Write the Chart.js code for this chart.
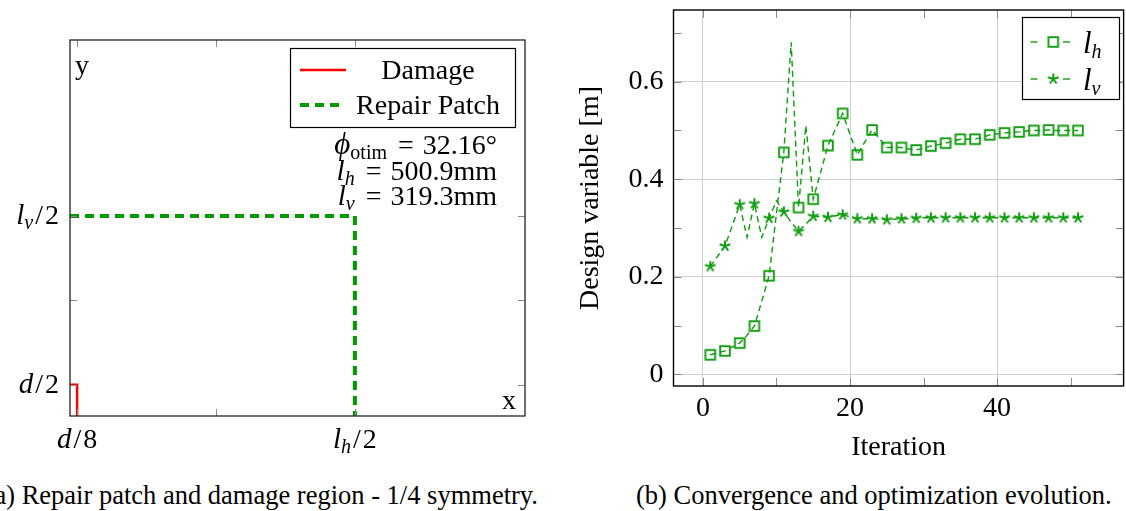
<!DOCTYPE html>
<html>
<head>
<meta charset="utf-8">
<script src="https://cdn.jsdelivr.net/npm/chart.js@4.4.1/dist/chart.umd.min.js"></script>
<style>
  html, body { margin: 0; padding: 0; background: #fff; overflow: hidden; }
  #wrap { position: relative; width: 1126px; height: 511px; overflow: hidden; }
  canvas { position: absolute; top: 0; }
  #patch { left: 0; }
  #conv { left: 560px; }
  .cap { position: absolute; top: 479px; font-family: "Liberation Serif", serif; font-size: 26.5px;
         line-height: 32px; white-space: nowrap; color: #000; }
  #capA { right: 588px; }
  #capB { left: 636px; }
</style>
</head>
<body>
<div id="wrap">
  <canvas id="patch" width="560" height="470"></canvas>
  <canvas id="conv" width="570" height="470"></canvas>
  <div class="cap" id="capA">(a) Repair patch and damage region - 1/4 symmetry.</div>
  <div class="cap" id="capB">(b) Convergence and optimization evolution.</div>
</div>
<script>
// ---- data: (a) patch geometry, mm ----
const damageX = [0, 6.25, 6.25];
const damageY = [25, 25, 0];
const patchX = [0, 250.45, 250.45];
const patchY = [159.65, 159.65, 0];
const patchXTicks = [6.25, 128.35, 250.45];
const patchYTicks = [25, 92.3, 159.65];

// ---- data: (b) convergence ----
const iterations = [
  1, 2, 3, 4, 5, 6, 7, 8, 9, 10, 11, 12, 13, 14, 15, 16, 17, 18, 19, 20, 21, 22, 23, 24, 25, 26,
  27, 28, 29, 30, 31, 32, 33, 34, 35, 36, 37, 38, 39, 40, 41, 42, 43, 44, 45, 46, 47, 48, 49, 50, 51
];
const lhValues = [
  0.040, 0.044, 0.048, 0.056, 0.064, 0.080, 0.099, 0.150, 0.202, 0.330,
  0.455, 0.681, 0.342, 0.510, 0.359, 0.414, 0.469, 0.502, 0.535, 0.492,
  0.450, 0.476, 0.501, 0.483, 0.465, 0.465, 0.465, 0.462, 0.460, 0.464,
  0.468, 0.471, 0.474, 0.478, 0.482, 0.482, 0.482, 0.486, 0.491, 0.493,
  0.495, 0.496, 0.497, 0.499, 0.500, 0.500, 0.501, 0.500, 0.500, 0.500, 0.500
];
const lvValues = [
  0.221, 0.242, 0.263, 0.305, 0.348, 0.281, 0.350, 0.281, 0.320, 0.356,
  0.333, 0.312, 0.293, 0.308, 0.324, 0.323, 0.322, 0.325, 0.327, 0.323,
  0.319, 0.319, 0.319, 0.318, 0.317, 0.318, 0.319, 0.319, 0.320, 0.321,
  0.321, 0.321, 0.321, 0.321, 0.321, 0.321, 0.321, 0.321, 0.321, 0.321,
  0.321, 0.321, 0.321, 0.321, 0.321, 0.321, 0.321, 0.321, 0.321, 0.321, 0.321
];
const xTickVals = [0, 10, 20, 30, 40, 50];
const xMajor = [0, 20, 40];
const yTickVals = [0, 0.1, 0.2, 0.3, 0.4, 0.5, 0.6, 0.7];
const yMajor = [0, 0.2, 0.4, 0.6];

const SERIF = '"Liberation Serif", "Times New Roman", serif';
const GREEN = '#0f9c0f';
const GREEN_A = '#009a00';
const RED = '#ff0000';
const GRID = '#cfcfcf';
const TICK = '#8a8a8a';
const font28 = { family: SERIF, size: 28 };

const STYLES = {
  i:  { font: 'italic 29px ' + SERIF, dy: 0 },
  I:  { font: 'italic 31px ' + SERIF, dy: 0 },
  r:  { font: '28px ' + SERIF, dy: 0 },
  si: { font: 'italic 20px ' + SERIF, dy: 5 },
  sr: { font: '20px ' + SERIF, dy: 5 },
};

// draws a run of math pieces: [text, style] or [gapWidth, 'g']
function drawMath(ctx, runs, x, y, align) {
  const wid = ([t, k]) => {
    if (k === 'g') return t;
    ctx.font = STYLES[k].font;
    return ctx.measureText(t).width;
  };
  const w = runs.reduce((s, r) => s + wid(r), 0);
  let cx = align === 'right' ? x - w : align === 'center' ? x - w / 2 : x;
  ctx.textAlign = 'left';
  ctx.textBaseline = 'alphabetic';
  ctx.fillStyle = '#000';
  runs.forEach(r => {
    const dw = wid(r);
    if (r[1] !== 'g') ctx.fillText(r[0], cx, y + STYLES[r[1]].dy);
    cx += dw;
  });
}

function seg(ctx, x1, y1, x2, y2) {
  ctx.beginPath(); ctx.moveTo(x1, y1); ctx.lineTo(x2, y2); ctx.stroke();
}

// ---- marker images ----
function squareMark() {
  const c = document.createElement('canvas');
  c.width = 14; c.height = 14;
  const g = c.getContext('2d');
  g.strokeStyle = GREEN; g.lineWidth = 1.9;
  g.strokeRect(7 - 4.8, 7 - 4.8, 9.6, 9.6);
  return c;
}
function starMark() {
  const c = document.createElement('canvas');
  c.width = 16; c.height = 16;
  const g = c.getContext('2d');
  g.strokeStyle = GREEN; g.lineWidth = 2;
  for (let k = 0; k < 5; k++) {
    const a = (-90 + 72 * k) * Math.PI / 180;
    seg(g, 8, 8, 8 + 5.6 * Math.cos(a), 8 + 5.6 * Math.sin(a));
  }
  return c;
}
const SQ = squareMark();
const ST = starMark();

const frac = (num, sub, den) => {
  const r = [[num, 'i']];
  if (sub) r.push([sub, 'si']);
  r.push([2, 'g'], ['/', 'r'], [2, 'g'], [den, 'r']);
  return r;
};
const eq = (lhs, rhs) => lhs.concat([[11, 'g'], ['=', 'r'], [9, 'g'], [rhs, 'r']]);

// ---- (a) frame, ticks, labels, legend ----
const patchDecor = {
  id: 'patchDecor',
  afterDraw(chart) {
    const { ctx, chartArea: a, scales: { x, y } } = chart;
    ctx.save();
    ctx.strokeStyle = TICK; ctx.lineWidth = 1;
    patchXTicks.forEach(v => {
      const px = Math.round(x.getPixelForValue(v)) + 0.5;
      seg(ctx, px, a.top, px, a.top + 7);
      seg(ctx, px, a.bottom, px, a.bottom - 7);
    });
    patchYTicks.forEach(v => {
      const py = Math.round(y.getPixelForValue(v)) + 0.5;
      seg(ctx, a.left, py, a.left + 7, py);
      seg(ctx, a.right, py, a.right - 7, py);
    });
    ctx.strokeStyle = '#222'; ctx.lineWidth = 1.3;
    ctx.strokeRect(a.left, a.top, a.right - a.left, a.bottom - a.top);

    // tick labels
    drawMath(ctx, frac('d', null, '8'), x.getPixelForValue(patchXTicks[0]), 448, 'center');
    drawMath(ctx, frac('l', 'h', '2'), x.getPixelForValue(patchXTicks[2]), 448, 'center');
    drawMath(ctx, frac('d', null, '2'), 59, y.getPixelForValue(patchYTicks[0]) + 8, 'right');
    drawMath(ctx, frac('l', 'v', '2'), 59, y.getPixelForValue(patchYTicks[2]) + 8, 'right');

    // axis letters
    drawMath(ctx, [['y', 'r']], 75, 74, 'left');
    drawMath(ctx, [['x', 'r']], 502, 409, 'left');

    // legend
    ctx.fillStyle = '#fff';
    ctx.fillRect(290, 48, 225, 80);
    ctx.strokeStyle = '#000'; ctx.lineWidth = 1.2;
    ctx.strokeRect(290.5, 48.5, 225, 79);
    ctx.strokeStyle = RED; ctx.lineWidth = 2.5;
    seg(ctx, 300, 70, 346, 70);
    ctx.strokeStyle = GREEN_A; ctx.lineWidth = 4; ctx.setLineDash([9, 6]);
    seg(ctx, 300, 105, 342, 105);
    ctx.setLineDash([]);
    chart.data.datasets.forEach((ds, i) => drawMath(ctx, [[ds.label, 'r']], 428, 79 + i * 35, 'center'));

    // result annotation
    drawMath(ctx, eq([['\u03d5', 'I'], ['otim', 'sr']], '32.16\u00b0'), 497, 154, 'right');
    drawMath(ctx, eq([['l', 'i'], ['h', 'si']], '500.9mm'), 497, 180, 'right');
    drawMath(ctx, eq([['l', 'i'], ['v', 'si']], '319.3mm'), 497, 205, 'right');
    ctx.restore();
  }
};

new Chart(document.getElementById('patch'), {
  type: 'scatter',
  data: {
    datasets: [
      { label: 'Damage', data: damageX.map((v, i) => ({ x: v, y: damageY[i] })), showLine: true,
        borderColor: RED, borderWidth: 2.5, pointRadius: 0, borderJoinStyle: 'miter' },
      { label: 'Repair Patch', data: patchX.map((v, i) => ({ x: v, y: patchY[i] })), showLine: true,
        borderColor: GREEN_A, borderWidth: 4, borderDash: [9, 6], pointRadius: 0, borderJoinStyle: 'miter' },
    ]
  },
  options: {
    responsive: false, animation: false, events: [],
    layout: { padding: { top: 40, right: 35, left: 0, bottom: 0 } },
    plugins: { legend: { display: false }, tooltip: { enabled: false } },
    scales: {
      x: { type: 'linear', min: 0, max: 400, ticks: { display: false }, grid: { display: false },
           border: { display: false },
           afterFit: s => { s.height = 54; s.paddingLeft = 0; s.paddingRight = 0; } },
      y: { type: 'linear', min: 0, max: 300, ticks: { display: false }, grid: { display: false },
           border: { display: false },
           afterFit: s => { s.width = 70; s.paddingTop = 0; s.paddingBottom = 0; } },
    }
  },
  plugins: [patchDecor]
});

// ---- (b) frame, inner ticks, legend ----
const convDecor = {
  id: 'convDecor',
  afterDraw(chart) {
    const { ctx, chartArea: a, scales: { x, y } } = chart;
    ctx.save();
    ctx.strokeStyle = TICK; ctx.lineWidth = 1;
    xTickVals.forEach(v => {
      const px = Math.round(x.getPixelForValue(v)) + 0.5;
      seg(ctx, px, a.top, px, a.top + 8);
      seg(ctx, px, a.bottom, px, a.bottom - 8);
    });
    yTickVals.forEach(v => {
      const py = Math.round(y.getPixelForValue(v)) + 0.5;
      seg(ctx, a.left, py, a.left + 8, py);
      seg(ctx, a.right, py, a.right - 8, py);
    });
    ctx.strokeStyle = '#000'; ctx.lineWidth = 1.4;
    ctx.strokeRect(a.left, a.top, a.right - a.left, a.bottom - a.top);

    // legend
    ctx.fillStyle = '#fff';
    ctx.fillRect(1022 - 560, 17, 97, 82);
    ctx.strokeStyle = '#000'; ctx.lineWidth = 1.2;
    ctx.strokeRect(1022.5 - 560, 17.5, 97, 82);
    const subs = ['h', 'v'];
    chart.data.datasets.forEach((ds, i) => {
      const ry = 42 + i * 37;
      ctx.strokeStyle = GREEN; ctx.lineWidth = 1.4;
      seg(ctx, 1030.5 - 560, ry, 1037.5 - 560, ry);
      seg(ctx, 1063 - 560, ry, 1070 - 560, ry);
      const img = ds.pointStyle;
      ctx.drawImage(img, 1053.3 - 560 - img.width / 2, ry - img.height / 2);
      drawMath(ctx, [['l', 'I'], [subs[i], 'si']], 1083 - 560, ry + 11, 'left');
    });
    ctx.restore();
  }
};

const markEvery2 = c => (c.dataIndex % 2 === 0 ? 5 : 0);

new Chart(document.getElementById('conv'), {
  type: 'line',
  data: {
    datasets: [
      { label: 'l_h', data: iterations.map((it, i) => ({ x: it, y: lhValues[i] })),
        borderColor: GREEN, borderWidth: 1.4, borderDash: [6, 4], tension: 0, fill: false,
        pointStyle: SQ, pointRadius: markEvery2 },
      { label: 'l_v', data: iterations.map((it, i) => ({ x: it, y: lvValues[i] })),
        borderColor: GREEN, borderWidth: 1.4, borderDash: [6, 4], tension: 0, fill: false,
        pointStyle: ST, pointRadius: markEvery2 },
    ]
  },
  options: {
    responsive: false, animation: false, events: [],
    layout: { padding: { top: 10, right: 0, left: 0, bottom: 0 } },
    plugins: { legend: { display: false }, tooltip: { enabled: false } },
    scales: {
      x: {
        type: 'linear', min: -4, max: 57.2,
        afterBuildTicks: s => { s.ticks = xTickVals.map(v => ({ value: v })); },
        afterFit: s => { s.height = 84; s.paddingLeft = 0; s.paddingRight = 0; },
        grid: { color: c => (c.tick && xMajor.includes(c.tick.value) ? GRID : 'rgba(0,0,0,0)'), drawTicks: false, lineWidth: 1 },
        border: { display: false },
        ticks: { font: font28, color: '#000', padding: 6, maxRotation: 0, autoSkip: false,
                 callback: v => (xMajor.includes(v) ? String(v) : '') },
        title: { display: true, text: 'Iteration', font: font28, color: '#000', padding: { top: 0, bottom: 6 } },
      },
      y: {
        type: 'linear', min: -0.024, max: 0.747,
        afterBuildTicks: s => { s.ticks = yTickVals.map(v => ({ value: v })); },
        afterFit: s => { s.width = 113.5; s.paddingTop = 0; s.paddingBottom = 0; },
        grid: { color: c => (c.tick && yMajor.includes(c.tick.value) ? GRID : 'rgba(0,0,0,0)'), drawTicks: false, lineWidth: 1 },
        border: { display: false },
        ticks: { font: font28, color: '#000', padding: 10, autoSkip: false,
                 callback: v => (yMajor.includes(v) ? String(v) : '') },
        title: { display: true, text: 'Design variable [m]', font: font28, color: '#000', padding: { top: 14, bottom: 0 } },
      },
    }
  },
  plugins: [convDecor]
});
</script>
</body>
</html>
